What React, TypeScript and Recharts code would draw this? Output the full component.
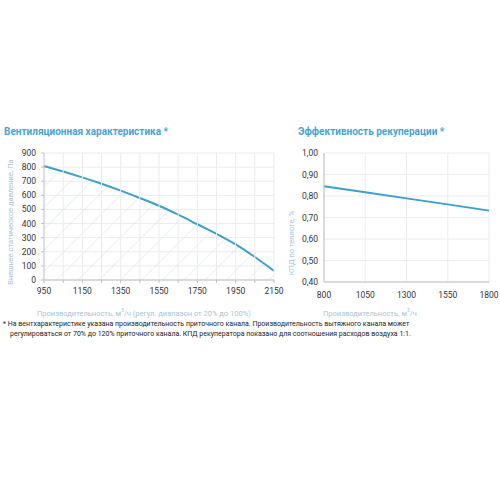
import React from "react";
import {
  ComposedChart,
  LineChart,
  Area,
  Line,
  XAxis,
  YAxis,
  CartesianGrid,
  ReferenceLine,
} from "recharts";

// вентиляционная характеристика
const fanFlow = [950, 1050, 1150, 1250, 1350, 1450, 1550, 1650, 1750, 1850, 1950, 2050, 2150];
const fanPressure = [808, 769, 727, 682, 633, 581, 526, 463, 395, 327, 252, 163, 65];
const fanXTicks = [950, 1050, 1150, 1250, 1350, 1450, 1550, 1650, 1750, 1850, 1950, 2050, 2150];
const fanYTicks = [0, 100, 200, 300, 400, 500, 600, 700, 800, 900];

// эффективность рекуперации
const recFlow = [800, 1050, 1300, 1550, 1800];
const recEff = [0.845, 0.817, 0.789, 0.761, 0.732];
const recYTicks = [0.4, 0.5, 0.6, 0.7, 0.8, 0.9, 1.0];

const fanData = fanFlow.map((q, i) => ({ q, p: fanPressure[i] }));
const recData = recFlow.map((q, i) => ({ q, e: recEff[i] }));

const BLUE = "#3d9fcc";
const TITLE = "#4aa3d3";
const AXIS = "#bfbfbf";
const GRID = "#ececec";
const MUTED = "#a8c4d6";
const FONT = "Roboto, 'Open Sans', sans-serif";

const tickStyle = { fontSize: 8.5, fill: "#333", fontFamily: FONT };

function FanTick(props: any) {
  const { x, y, payload } = props;
  if ((payload.value - 950) % 200 !== 0) return null;
  return (
    <text x={x} y={y + 9} textAnchor="middle" {...tickStyle}>
      {payload.value}
    </text>
  );
}

const abs = (s: React.CSSProperties): React.CSSProperties => ({ position: "absolute", ...s });

export default function App() {
  return (
    <div style={abs({ left: 0, top: 0, width: 500, height: 500, background: "#fff", fontFamily: FONT })}>
      <div style={abs({ left: 4, top: 126, fontSize: 10, fontWeight: 700, color: TITLE, whiteSpace: "nowrap" })}>
        Вентиляционная характеристика *
      </div>
      <div style={abs({ left: 298, top: 126, fontSize: 10, fontWeight: 700, color: TITLE, whiteSpace: "nowrap" })}>
        Эффективность рекуперации *
      </div>

      <div style={abs({ left: 0, top: 145 })}>
        <svg width={0} height={0} style={{ position: "absolute" }}>
          <defs>
            <pattern id="hatch" width={15} height={15} patternUnits="userSpaceOnUse" patternTransform="rotate(45)">
              <line x1={0} y1={0} x2={0} y2={15} stroke="#cfe5f0" strokeWidth={1} />
            </pattern>
          </defs>
        </svg>
        <ComposedChart width={285} height={155} data={fanData} margin={{ top: 8, right: 11, bottom: 0, left: 0 }}>
          <CartesianGrid vertical={false} stroke={GRID} />
          {fanXTicks.slice(1).map((v) => (
            <ReferenceLine key={v} x={v} stroke={GRID} />
          ))}
          <XAxis
            dataKey="q"
            type="number"
            domain={[950, 2150]}
            ticks={fanXTicks}
            interval={0}
            height={20}
            tick={<FanTick />}
            tickSize={3}
            axisLine={{ stroke: AXIS }}
            tickLine={{ stroke: AXIS }}
          />
          <YAxis
            type="number"
            domain={[0, 900]}
            ticks={fanYTicks}
            interval={0}
            width={44}
            tick={tickStyle}
            tickSize={3}
            tickMargin={5}
            axisLine={{ stroke: AXIS }}
            tickLine={{ stroke: AXIS }}
          />
          <Area
            type="monotone"
            dataKey="p"
            stroke={BLUE}
            strokeWidth={2}
            fill="url(#hatch)"
            fillOpacity={1}
            isAnimationActive={false}
          />
        </ComposedChart>
      </div>

      <div style={abs({ left: 280, top: 145 })}>
        <LineChart width={220} height={157} data={recData} margin={{ top: 8, right: 11, bottom: 0, left: 0 }}>
          <CartesianGrid stroke={GRID} />
          <XAxis
            dataKey="q"
            type="number"
            domain={[800, 1800]}
            ticks={recFlow}
            interval={0}
            height={20}
            tick={{ ...tickStyle, dy: 2 }}
            tickLine={false}
            axisLine={{ stroke: AXIS }}
          />
          <YAxis
            type="number"
            domain={[0.4, 1.0]}
            ticks={recYTicks}
            interval={0}
            width={44}
            tick={tickStyle}
            tickLine={false}
            tickSize={2}
            tickMargin={4}
            tickFormatter={(v: number) => v.toFixed(2).replace(".", ",")}
            axisLine={{ stroke: AXIS }}
          />
          <Line type="linear" dataKey="e" stroke={BLUE} strokeWidth={2} dot={false} isAnimationActive={false} />
        </LineChart>
      </div>

      <div
        style={abs({
          left: 10,
          top: 222,
          transform: "translate(-50%, -50%) rotate(-90deg)",
          fontSize: 7.5,
          color: MUTED,
          whiteSpace: "nowrap",
        })}
      >
        Внешнее статическое давление, Па
      </div>
      <div
        style={abs({
          left: 291,
          top: 243,
          transform: "translate(-50%, -50%) rotate(-90deg)",
          fontSize: 7.5,
          color: MUTED,
          whiteSpace: "nowrap",
        })}
      >
        КПД по теплоте, %
      </div>

      <div style={abs({ left: 37, top: 307, fontSize: 7.5, color: MUTED, whiteSpace: "nowrap" })}>
        Производительность, м<sup style={{ fontSize: 5 }}>3</sup>/ч (регул. диапазон от 20% до 100%)
      </div>
      <div style={abs({ left: 323, top: 307, fontSize: 7.5, color: MUTED, whiteSpace: "nowrap" })}>
        Производительность, м<sup style={{ fontSize: 5 }}>3</sup>/ч
      </div>

      <div style={abs({ left: 3, top: 319, fontSize: 7, lineHeight: "10px", color: "#222", whiteSpace: "nowrap" })}>
        * На вентхарактеристике указана производительность приточного канала. Производительность вытяжного канала может
        <br />
        <span style={{ paddingLeft: 7 }}>
          регулироваться от 70% до 120% приточного канала. КПД рекуператора показано для соотношения расходов воздуха 1:1.
        </span>
      </div>
    </div>
  );
}
